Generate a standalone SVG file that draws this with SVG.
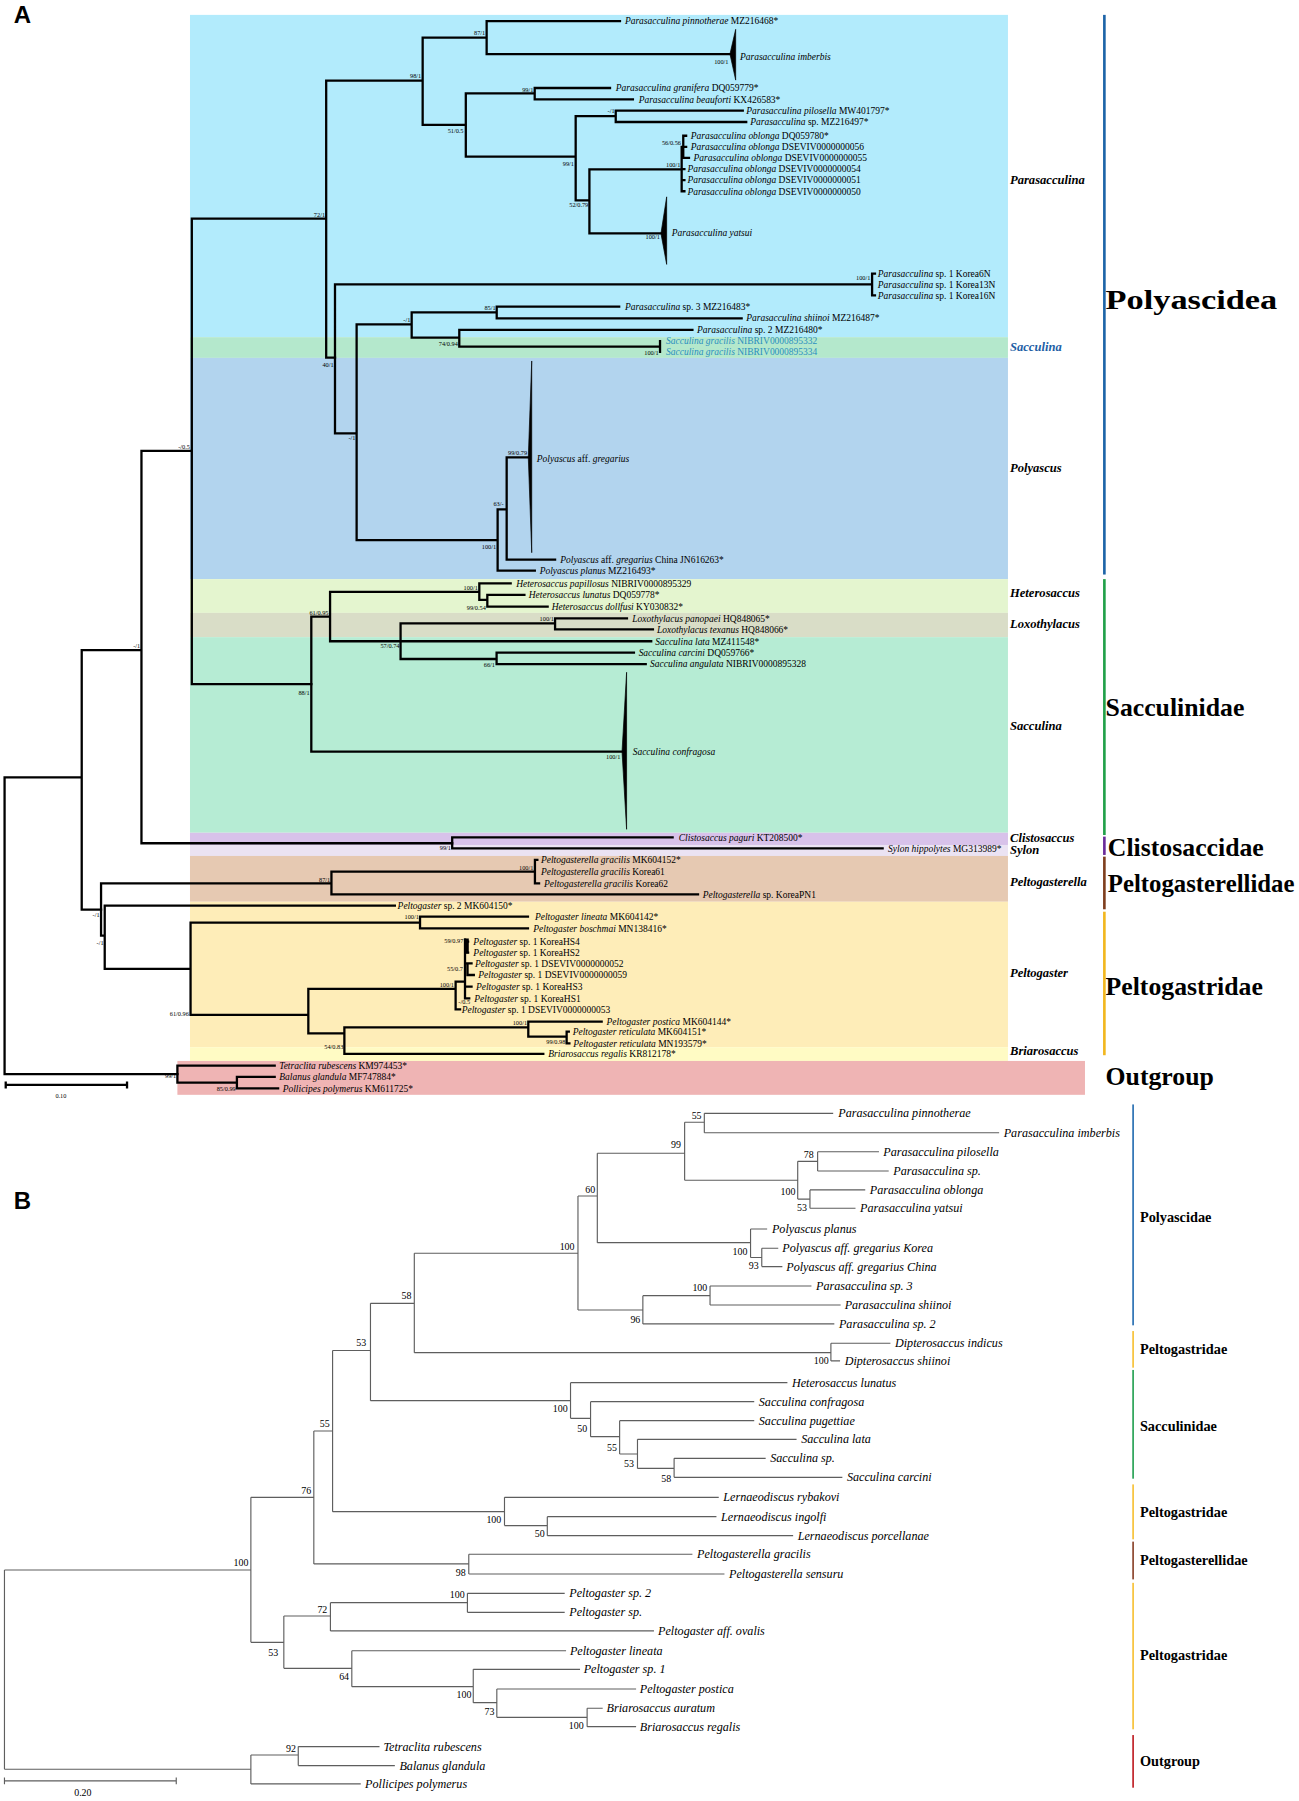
<svg xmlns="http://www.w3.org/2000/svg" width="1299" height="1801" viewBox="0 0 1299 1801">
<style>
.br{stroke:#000;stroke-width:2;fill:none;stroke-linecap:square}
.bb{stroke:#5e5e5e;stroke-width:1;fill:none}
.ta{font-family:"Liberation Serif",serif;font-size:8.3px;fill:#000}
.tg{font-family:"Liberation Serif",serif;font-size:8.3px;fill:#2b8fc0}
.i{font-style:italic}
.sa{font-family:"Liberation Serif",serif;font-size:5.5px;text-anchor:end;fill:#000}
.g{font-family:"Liberation Serif",serif;font-size:11px;font-weight:bold;font-style:italic;fill:#000}
.f{font-family:"Liberation Serif",serif;font-size:22.5px;font-weight:bold;fill:#000}
.tb{font-family:"Liberation Serif",serif;font-size:10.6px;font-style:italic;fill:#000}
.sb{font-family:"Liberation Serif",serif;font-size:8.7px;text-anchor:end;fill:#000}
.fb{font-family:"Liberation Serif",serif;font-size:12.5px;font-weight:bold;fill:#000}
.pl{font-family:"Liberation Sans",Arial,sans-serif;font-size:21px;font-weight:bold;fill:#000}
.tri{fill:#000;stroke:#000;stroke-width:0.6}
</style>
<rect width="1299" height="1801" fill="#fff"/>
<g transform="scale(1.14449)">
<text class="pl" x="12" y="20.5">A</text>
<text class="pl" x="12" y="1056">B</text>

<g id="bands-a">
<rect x="166" y="13" width="714.7" height="281.6" fill="#b2ebfc"/>
<rect x="166" y="294.6" width="714.7" height="18.1" fill="#b4e8cc"/>
<rect x="166" y="312.7" width="714.7" height="193.3" fill="#b2d4ee"/>
<rect x="166" y="506" width="714.7" height="29.5" fill="#e4f5cf"/>
<rect x="166" y="535.5" width="714.7" height="21.2" fill="#d9ddc7"/>
<rect x="166" y="556.7" width="714.7" height="170.9" fill="#b6ecd4"/>
<rect x="166" y="727.6" width="714.7" height="10.7" fill="#d8c2ea"/>
<rect x="166" y="738.3" width="714.7" height="9.6" fill="#ebe3f3"/>
<rect x="166" y="747.9" width="714.7" height="40" fill="#e6c9b2"/>
<rect x="166" y="787.9" width="714.7" height="127.1" fill="#feedb8"/>
<rect x="166" y="915" width="714.7" height="12" fill="#fffbc4"/>
<rect x="155" y="927" width="793" height="29.6" fill="#efb4b4"/>
</g>

<g id="connectors-a">
<path class="br" d="M4 679.2V938.5M4 679.2H71.4M4 938.5H155M71.4 568V794.7M71.4 568H123.6M71.4 794.7H88.3M123.6 394V736.8M123.6 394H167.6M123.6 736.8H395.1M167.6 191V597.8M167.6 191H285M167.6 597.8H272M285 70.5V312.5M285 70.5H369.3M285 312.5H292.7M369.3 32.9V109.2M369.3 32.9H425.2M369.3 109.2H407M425.2 18.4V47.2M425.2 18.4H541.7M425.2 47.2H637.8M407 81.5V136.9M407 81.5H467.2M407 136.9H503M467.2 76.9V86.8M467.2 76.9H533M467.2 86.8H553M503 101.4V175M503 101.4H538M503 175H515M538 96.7V106.6M538 96.7H649M538 106.6H652M515 148V204M515 148H595.6M515 204H577.5M595.6 128.3V167.1M595.6 128.3H597M597 118.6V138M597 118.6H599.5M597 128.3H599.5M597 138H602M595.6 147.7H598M595.6 157.4H598M595.6 167.1H598"/>
<path class="br" d="M292.7 248.4V378.6M292.7 248.4H762M292.7 378.6H311.6M762 239V258M762 239H764.5M762 258H764.5M311.6 283.4V472M311.6 283.4H359.7M311.6 472H434.8M359.7 272.9V295M359.7 272.9H434M359.7 295H401.3M434 268V278.1M434 268H541M434 278.1H648M401.3 288.3V302.9M401.3 288.3H605M401.3 302.9H576.7M576.7 298V307.5M434.8 445V498.5M434.8 445H442.7M434.8 498.5H467.3M442.7 399.6V489M442.7 399.6H461.6M442.7 489H485"/>
<path class="br" d="M272 538.8V656.8M272 538.8H288.4M272 656.8H543.5M288.4 517.2V560.3M288.4 517.2H418.8M288.4 560.3H569M418.8 509.7V524.2M418.8 509.7H446.2M418.8 524.2H425.8M425.8 519.8V530M425.8 519.8H458.2M425.8 530H478.5M350 544.6V575.8M350 544.6H485M350 575.8H433.9M485 540.3V549.9M485 540.3H547.8M485 549.9H570.5M433.9 570.3V580.2M433.9 570.3H553.9M433.9 580.2H564.2M395.1 731.6V741.2M395.1 731.6H587.7M395.1 741.2H771.2"/>
<path class="br" d="M88.3 771.8V817.5M88.3 771.8H289.6M88.3 817.5H91.5M289.6 761.6V781.4M289.6 761.6H467.4M289.6 781.4H609.9M467.4 751.4V771.8M467.4 751.4H469.5M467.4 771.8H471M91.5 791.3V846.5M91.5 791.3H345M91.5 846.5H166.5M166.5 806.2V886.8M166.5 806.2H367M166.5 886.8H269.4M367 800.9V811.1M367 800.9H461.3M367 811.1H461.3M269.4 864.1V902.9M269.4 864.1H398.1M269.4 902.9H300.9M398.1 857.7V881.9M398.1 857.7H406.3M398.1 881.9H402M406.3 820.7V872.3M406.3 822.8H409M406.3 832.4H409M406.3 841.7H412M408.5 841.7V851.9M408.5 851.9H414M406.3 862.1H412M406.3 872.3H410M300.9 897.6V920.9M300.9 897.6H461.6M300.9 920.9H474.7M461.6 892.7V905.8M461.6 892.7H525.7M461.6 905.8H495.1M495.1 901.4V911.6M495.1 901.4H497M495.1 911.6H497.5M155 931V946M155 931H240M155 946H207M207 941V951M207 941H240M207 951H243"/>
<rect x="407" y="820" width="2.6" height="13" fill="#000"/>
<polygon class="tri" points="637.8,47.2 642.8,25.6 642.8,70"/>
<polygon class="tri" points="577.5,204 582.5,172 582.5,231"/>
<polygon class="tri" points="461.6,399.6 464.6,315.4 464.6,482.9"/>
<polygon class="tri" points="543.5,656.8 547.5,587.4 547.5,724.6"/>
<path class="br" d="M5 948H111M5 946V950M111 946V950" stroke-width="1"/>
</g>

<g id="tips-a">
<text class="ta" x="546" y="21.3"><tspan class="i">Parasacculina pinnotherae</tspan> MZ216468*</text>
<text class="ta" x="646.5" y="52"><tspan class="i">Parasacculina imberbis</tspan></text>
<text class="ta" x="538" y="79.8"><tspan class="i">Parasacculina granifera</tspan> DQ059779*</text>
<text class="ta" x="558" y="89.7"><tspan class="i">Parasacculina beauforti</tspan> KX426583*</text>
<text class="ta" x="652" y="99.6"><tspan class="i">Parasacculina pilosella</tspan> MW401797*</text>
<text class="ta" x="655.5" y="109.5"><tspan class="i">Parasacculina</tspan> sp. MZ216497*</text>
<text class="ta" x="603.5" y="121.5"><tspan class="i">Parasacculina oblonga</tspan> DQ059780*</text>
<text class="ta" x="603.5" y="131.2"><tspan class="i">Parasacculina oblonga</tspan> DSEVIV0000000056</text>
<text class="ta" x="606" y="140.9"><tspan class="i">Parasacculina oblonga</tspan> DSEVIV0000000055</text>
<text class="ta" x="600.6" y="150.6"><tspan class="i">Parasacculina oblonga</tspan> DSEVIV0000000054</text>
<text class="ta" x="600.6" y="160.3"><tspan class="i">Parasacculina oblonga</tspan> DSEVIV0000000051</text>
<text class="ta" x="600.6" y="170"><tspan class="i">Parasacculina oblonga</tspan> DSEVIV0000000050</text>
<text class="ta" x="587" y="206.5"><tspan class="i">Parasacculina yatsui</tspan></text>
<text class="ta" x="767" y="241.9"><tspan class="i">Parasacculina</tspan> sp. 1 Korea6N</text>
<text class="ta" x="767" y="251.4"><tspan class="i">Parasacculina</tspan> sp. 1 Korea13N</text>
<text class="ta" x="767" y="260.9"><tspan class="i">Parasacculina</tspan> sp. 1 Korea16N</text>
<text class="ta" x="546" y="270.9"><tspan class="i">Parasacculina</tspan> sp. 3 MZ216483*</text>
<text class="ta" x="652" y="280.9"><tspan class="i">Parasacculina shiinoi</tspan> MZ216487*</text>
<text class="ta" x="609" y="291.2"><tspan class="i">Parasacculina</tspan> sp. 2 MZ216480*</text>
<text class="tg" x="582" y="300.9"><tspan class="i">Sacculina gracilis</tspan> NIBRIV0000895332</text>
<text class="tg" x="582" y="310.4"><tspan class="i">Sacculina gracilis</tspan> NIBRIV0000895334</text>
<text class="ta" x="469" y="403.9"><tspan class="i">Polyascus</tspan> aff. <tspan class="i">gregarius</tspan></text>
<text class="ta" x="489.5" y="491.9"><tspan class="i">Polyascus</tspan> aff. <tspan class="i">gregarius</tspan> China JN616263*</text>
<text class="ta" x="471.5" y="501.4"><tspan class="i">Polyascus planus</tspan> MZ216493*</text>
<text class="ta" x="451" y="512.6"><tspan class="i">Heterosaccus papillosus</tspan> NIBRIV0000895329</text>
<text class="ta" x="462" y="522.7"><tspan class="i">Heterosaccus lunatus</tspan> DQ059778*</text>
<text class="ta" x="482" y="532.9"><tspan class="i">Heterosaccus dollfusi</tspan> KY030832*</text>
<text class="ta" x="552.5" y="543.2"><tspan class="i">Loxothylacus panopaei</tspan> HQ848065*</text>
<text class="ta" x="574" y="552.8"><tspan class="i">Loxothylacus texanus</tspan> HQ848066*</text>
<text class="ta" x="572.5" y="563.2"><tspan class="i">Sacculina lata</tspan> MZ411548*</text>
<text class="ta" x="558" y="573.2"><tspan class="i">Sacculina carcini</tspan> DQ059766*</text>
<text class="ta" x="568" y="583.1"><tspan class="i">Sacculina angulata</tspan> NIBRIV0000895328</text>
<text class="ta" x="552.8" y="659.7"><tspan class="i">Sacculina confragosa</tspan></text>
<text class="ta" x="593" y="734.5"><tspan class="i">Clistosaccus paguri</tspan> KT208500*</text>
<text class="ta" x="776" y="744.1"><tspan class="i">Sylon hippolytes</tspan> MG313989*</text>
<text class="ta" x="472.6" y="754.3"><tspan class="i">Peltogasterella gracilis</tspan> MK604152*</text>
<text class="ta" x="472.6" y="764.5"><tspan class="i">Peltogasterella gracilis</tspan> Korea61</text>
<text class="ta" x="475.4" y="774.7"><tspan class="i">Peltogasterella gracilis</tspan> Korea62</text>
<text class="ta" x="614" y="784.3"><tspan class="i">Peltogasterella</tspan> sp. KoreaPN1</text>
<text class="ta" x="347.4" y="794.2"><tspan class="i">Peltogaster</tspan> sp. 2 MK604150*</text>
<text class="ta" x="467.4" y="803.8"><tspan class="i">Peltogaster lineata</tspan> MK604142*</text>
<text class="ta" x="466" y="814"><tspan class="i">Peltogaster boschmai</tspan> MN138416*</text>
<text class="ta" x="413.6" y="825.7"><tspan class="i">Peltogaster</tspan> sp. 1 KoreaHS4</text>
<text class="ta" x="413.6" y="835.3"><tspan class="i">Peltogaster</tspan> sp. 1 KoreaHS2</text>
<text class="ta" x="415" y="844.6"><tspan class="i">Peltogaster</tspan> sp. 1 DSEVIV0000000052</text>
<text class="ta" x="417.9" y="854.8"><tspan class="i">Peltogaster</tspan> sp. 1 DSEVIV0000000059</text>
<text class="ta" x="415.9" y="865"><tspan class="i">Peltogaster</tspan> sp. 1 KoreaHS3</text>
<text class="ta" x="414.4" y="875.2"><tspan class="i">Peltogaster</tspan> sp. 1 KoreaHS1</text>
<text class="ta" x="403.4" y="884.8"><tspan class="i">Peltogaster</tspan> sp. 1 DSEVIV0000000053</text>
<text class="ta" x="530" y="895.6"><tspan class="i">Peltogaster postica</tspan> MK604144*</text>
<text class="ta" x="500.4" y="904.3"><tspan class="i">Peltogaster reticulata</tspan> MK604151*</text>
<text class="ta" x="500.8" y="914.5"><tspan class="i">Peltogaster reticulata</tspan> MN193579*</text>
<text class="ta" x="479.1" y="923.8"><tspan class="i">Briarosaccus regalis</tspan> KR812178*</text>
<text class="ta" x="244" y="933.9"><tspan class="i">Tetraclita rubescens</tspan> KM974453*</text>
<text class="ta" x="244" y="943.9"><tspan class="i">Balanus glandula</tspan> MF747884*</text>
<text class="ta" x="247" y="953.9"><tspan class="i">Pollicipes polymerus</tspan> KM611725*</text>
<text class="sa" x="58" y="959" text-anchor="middle">0.10</text>
</g>

<g id="support-a">
<text class="sa" x="424" y="31">87/1</text>
<text class="sa" x="636.5" y="56">100/1</text>
<text class="sa" x="368" y="68.5">98/1</text>
<text class="sa" x="466" y="80">99/1</text>
<text class="sa" x="405" y="116">51/0.5</text>
<text class="sa" x="537" y="99">-/1</text>
<text class="sa" x="501.5" y="145">99/1</text>
<text class="sa" x="595" y="127">56/0.56</text>
<text class="sa" x="594.5" y="145.5">100/1</text>
<text class="sa" x="514" y="180.5">52/0.79</text>
<text class="sa" x="576.5" y="209">100/1</text>
<text class="sa" x="284" y="189.5">72/1</text>
<text class="sa" x="291.5" y="320.5">40/1</text>
<text class="sa" x="310.5" y="384.5">-/1</text>
<text class="sa" x="358.5" y="281.5">-/1</text>
<text class="sa" x="433" y="270.5">85/1</text>
<text class="sa" x="400" y="302">74/0.94</text>
<text class="sa" x="575.5" y="310">100/1</text>
<text class="sa" x="460.5" y="397.5">99/0.79</text>
<text class="sa" x="440" y="442.5">63/-</text>
<text class="sa" x="433.5" y="479.5">100/1</text>
<text class="sa" x="166" y="392">-/0.5</text>
<text class="sa" x="122.5" y="566">-/1</text>
<text class="sa" x="760.5" y="245">100/1</text>
<text class="sa" x="417.5" y="515.5">100/1</text>
<text class="sa" x="424.5" y="533">99/0.54</text>
<text class="sa" x="287" y="537">61/0.95</text>
<text class="sa" x="484" y="542.5">100/1</text>
<text class="sa" x="349" y="566">57/0.74</text>
<text class="sa" x="432.5" y="582.5">66/1</text>
<text class="sa" x="270.5" y="607">88/1</text>
<text class="sa" x="542" y="663">100/1</text>
<text class="sa" x="394" y="742.5">99/1</text>
<text class="sa" x="288.5" y="770.5">87/1</text>
<text class="sa" x="466" y="760">100/1</text>
<text class="sa" x="87" y="801.5">-/1</text>
<text class="sa" x="90.5" y="826">-/1</text>
<text class="sa" x="366" y="803">100/1</text>
<text class="sa" x="165" y="888">61/0.96</text>
<text class="sa" x="404.8" y="824">59/0.97</text>
<text class="sa" x="404.5" y="848">55/0.7</text>
<text class="sa" x="396.7" y="862">100/1</text>
<text class="sa" x="410.7" y="877.5">-/0.5</text>
<text class="sa" x="300" y="916.5">54/0.83</text>
<text class="sa" x="460.5" y="896">100/1</text>
<text class="sa" x="494" y="912">99/0.98</text>
<text class="sa" x="154" y="942">99/1</text>
<text class="sa" x="206" y="953">85/0.99</text>
</g>

<g id="clades-a">
<text class="g" x="882.5" y="161">Parasacculina</text>
<text class="g" x="882.5" y="307" style="fill:#1f5fa6">Sacculina</text>
<text class="g" x="882.5" y="412">Polyascus</text>
<text class="g" x="882.5" y="522">Heterosaccus</text>
<text class="g" x="882.5" y="549">Loxothylacus</text>
<text class="g" x="882.5" y="638">Sacculina</text>
<text class="g" x="882.5" y="735.5">Clistosaccus</text>
<text class="g" x="882.5" y="746">Sylon</text>
<text class="g" x="882.5" y="774.5">Peltogasterella</text>
<text class="g" x="882.5" y="854">Peltogaster</text>
<text class="g" x="882.5" y="922">Briarosaccus</text>
<rect x="963.8" y="13" width="2.3" height="489" fill="#1d64a8"/>
<rect x="963.8" y="506" width="2.3" height="223.6" fill="#21a049"/>
<rect x="963.8" y="731" width="2.3" height="16" fill="#6a2b9a"/>
<rect x="963.8" y="748.5" width="2.3" height="46" fill="#7f3f1e"/>
<rect x="963.8" y="796.6" width="2.3" height="125.4" fill="#f2b71f"/>
<text class="f" x="966" y="270" textLength="150" lengthAdjust="spacingAndGlyphs" style="font-size:24px">Polyascidea</text>
<text class="f" x="966" y="626">Sacculinidae</text>
<text class="f" x="968" y="748">Clistosaccidae</text>
<text class="f" x="968" y="779" textLength="163" lengthAdjust="spacingAndGlyphs">Peltogasterellidae</text>
<text class="f" x="966" y="869">Peltogastridae</text>
<text class="f" x="966" y="948">Outgroup</text>
</g>

<g id="connectors-b">
<path class="bb" d="M3.9 1371.8V1545.9M3.9 1371.8H219.2M3.9 1545.9H219.2M219.2 1308.3V1435M219.2 1308.3H274.2M219.2 1435H248M274.2 1250.3V1366.5M274.2 1250.3H290.6M274.2 1366.5H409.6M290.6 1180V1320.8M290.6 1180H323.7M290.6 1320.8H440.8M323.7 1138.8V1223.8M323.7 1138.8H362M323.7 1223.8H498.5M362 1095V1181.9M362 1095H505M362 1181.9H726M505 1045V1144.6M505 1045H521.9M505 1144.6H561.7M521.9 1007.7V1085.8M521.9 1007.7H598.2M521.9 1085.8H655.8M598.2 980.6V1031.2M598.2 980.6H615.4M598.2 1031.2H697M615.4 972.8V989.7M615.4 972.8H728M615.4 989.7H873M697 1014.7V1047.7M697 1014.7H714.4M697 1047.7H707.7M714.4 1006.3V1023.2M714.4 1006.3H768M714.4 1023.2H776.5M707.7 1039.7V1055.7M707.7 1039.7H756M707.7 1055.7H747.5M655.8 1073.8V1098.7M655.8 1073.8H670.3M655.8 1098.7H665.6M665.6 1090.7V1106.7M665.6 1090.7H680M665.6 1106.7H683.6M561.7 1132.1V1156.8M561.7 1132.1H620.4M561.7 1156.8H729M620.4 1123.6V1140.2M620.4 1123.6H709M620.4 1140.2H734.5M726 1173.7V1189.1M726 1173.7H778M726 1189.1H734"/>
<path class="bb" d="M498.5 1208.1V1239.3M498.5 1208.1H688M498.5 1239.3H516M516 1224.7V1255.3M516 1224.7H659M516 1255.3H541.4M541.4 1241.3V1270.4M541.4 1241.3H659M541.4 1270.4H557M557 1257.6V1283M557 1257.6H696M557 1283H589M589 1274.2V1290.8M589 1274.2H669M589 1290.8H736M440.8 1308.3V1333M440.8 1308.3H628M440.8 1333H478.2M478.2 1325.2V1341.8M478.2 1325.2H626M478.2 1341.8H693M409.6 1358V1375.3M409.6 1358H605M409.6 1375.3H633M248 1412V1457.7M248 1412H288.7M248 1457.7H307.4M288.7 1400.3V1425M288.7 1400.3H408.4M288.7 1425H571.4M408.4 1392.2V1408.8M408.4 1392.2H493.4M408.4 1408.8H493.4M307.4 1442.3V1473.7M307.4 1442.3H494.6M307.4 1473.7H413.5M413.5 1458.6V1487.7M413.5 1458.6H506.8M413.5 1487.7H434.1M434.1 1475.8V1500.5M434.1 1475.8H555.8M434.1 1500.5H513M513 1492.6V1508.7M513 1492.6H526.6M513 1508.7H555.8M219.2 1533.4V1558.7M219.2 1533.4H260.6M219.2 1558.7H315.2M260.6 1526.1V1542.7M260.6 1526.1H331.6M260.6 1542.7H345M3.9 1556H154M3.9 1553V1559M154 1553V1559"/>
</g>

<g id="tips-b">
<text class="tb" x="732.5" y="976.4">Parasacculina pinnotherae</text>
<text class="tb" x="877" y="993.3">Parasacculina imberbis</text>
<text class="tb" x="771.8" y="1009.9">Parasacculina pilosella</text>
<text class="tb" x="780.5" y="1026.8">Parasacculina sp.</text>
<text class="tb" x="760" y="1043.3">Parasacculina oblonga</text>
<text class="tb" x="751.4" y="1059.3">Parasacculina yatsui</text>
<text class="tb" x="674.5" y="1077.4">Polyascus planus</text>
<text class="tb" x="683.6" y="1094.3">Polyascus aff. gregarius Korea</text>
<text class="tb" x="687" y="1110.3">Polyascus aff. gregarius China</text>
<text class="tb" x="713" y="1127.2">Parasacculina sp. 3</text>
<text class="tb" x="738" y="1143.8">Parasacculina shiinoi</text>
<text class="tb" x="733" y="1160.4">Parasacculina sp. 2</text>
<text class="tb" x="782" y="1177.3">Dipterosaccus indicus</text>
<text class="tb" x="738" y="1192.7">Dipterosaccus shiinoi</text>
<text class="tb" x="692" y="1211.7">Heterosaccus lunatus</text>
<text class="tb" x="663" y="1228.3">Sacculina confragosa</text>
<text class="tb" x="663" y="1244.9">Sacculina pugettiae</text>
<text class="tb" x="700" y="1261.2">Sacculina lata</text>
<text class="tb" x="673" y="1277.8">Sacculina sp.</text>
<text class="tb" x="740" y="1294.4">Sacculina carcini</text>
<text class="tb" x="632" y="1311.9">Lernaeodiscus rybakovi</text>
<text class="tb" x="630" y="1328.8">Lernaeodiscus ingolfi</text>
<text class="tb" x="697" y="1345.4">Lernaeodiscus porcellanae</text>
<text class="tb" x="609" y="1361.6">Peltogasterella gracilis</text>
<text class="tb" x="637" y="1378.9">Peltogasterella sensuru</text>
<text class="tb" x="497.4" y="1395.8">Peltogaster sp. 2</text>
<text class="tb" x="497.4" y="1412.4">Peltogaster sp.</text>
<text class="tb" x="575" y="1428.6">Peltogaster aff. ovalis</text>
<text class="tb" x="498" y="1445.9">Peltogaster lineata</text>
<text class="tb" x="510" y="1462.2">Peltogaster sp. 1</text>
<text class="tb" x="559" y="1479.4">Peltogaster postica</text>
<text class="tb" x="530" y="1496.2">Briarosaccus auratum</text>
<text class="tb" x="559" y="1512.3">Briarosaccus regalis</text>
<text class="tb" x="335" y="1529.7">Tetraclita rubescens</text>
<text class="tb" x="349" y="1546.3">Balanus glandula</text>
<text class="tb" x="319" y="1562.3">Pollicipes polymerus</text>
<text class="sb" x="80" y="1569" text-anchor="middle">0.20</text>
</g>

<g id="support-b">
<text class="sb" x="613" y="978">55</text>
<text class="sb" x="595" y="1003.5">99</text>
<text class="sb" x="520" y="1042">60</text>
<text class="sb" x="502" y="1092.5">100</text>
<text class="sb" x="359.5" y="1135">58</text>
<text class="sb" x="320" y="1176">53</text>
<text class="sb" x="711" y="1011.5">78</text>
<text class="sb" x="695" y="1044">100</text>
<text class="sb" x="705" y="1058.5">53</text>
<text class="sb" x="653" y="1096.7">100</text>
<text class="sb" x="663" y="1109">93</text>
<text class="sb" x="618" y="1128">100</text>
<text class="sb" x="559.5" y="1156">96</text>
<text class="sb" x="724" y="1192">100</text>
<text class="sb" x="496" y="1234">100</text>
<text class="sb" x="513" y="1251.5">50</text>
<text class="sb" x="539" y="1267.5">55</text>
<text class="sb" x="554" y="1281.5">53</text>
<text class="sb" x="586.5" y="1294.5">58</text>
<text class="sb" x="288" y="1246.5">55</text>
<text class="sb" x="438" y="1331">100</text>
<text class="sb" x="476" y="1343">50</text>
<text class="sb" x="272" y="1305">76</text>
<text class="sb" x="407" y="1377">98</text>
<text class="sb" x="217" y="1368">100</text>
<text class="sb" x="286" y="1409">72</text>
<text class="sb" x="406" y="1396.5">100</text>
<text class="sb" x="243" y="1446.5">53</text>
<text class="sb" x="305" y="1468">64</text>
<text class="sb" x="412" y="1483.5">100</text>
<text class="sb" x="432" y="1498.5">73</text>
<text class="sb" x="510" y="1511">100</text>
<text class="sb" x="258.5" y="1530.5">92</text>
</g>

<g id="clades-b">
<rect x="989.3" y="965" width="1.5" height="193" fill="#2f74b5"/>
<rect x="989.3" y="1163" width="1.5" height="32" fill="#f7c33d"/>
<rect x="989.3" y="1197" width="1.5" height="95" fill="#2ea55a"/>
<rect x="989.3" y="1297" width="1.5" height="48" fill="#f7c33d"/>
<rect x="989.3" y="1347" width="1.5" height="33" fill="#8e4a33"/>
<rect x="989.3" y="1383" width="1.5" height="128" fill="#f7c33d"/>
<rect x="989.3" y="1516" width="1.5" height="46" fill="#c1272d"/>
<text class="fb" x="996" y="1067.3">Polyascidae</text>
<text class="fb" x="996" y="1183.3">Peltogastridae</text>
<text class="fb" x="996" y="1250.3">Sacculinidae</text>
<text class="fb" x="996" y="1325.3">Peltogastridae</text>
<text class="fb" x="996" y="1367.3">Peltogasterellidae</text>
<text class="fb" x="996" y="1450.3">Peltogastridae</text>
<text class="fb" x="996" y="1543.3">Outgroup</text>
</g>
</g>
</svg>
